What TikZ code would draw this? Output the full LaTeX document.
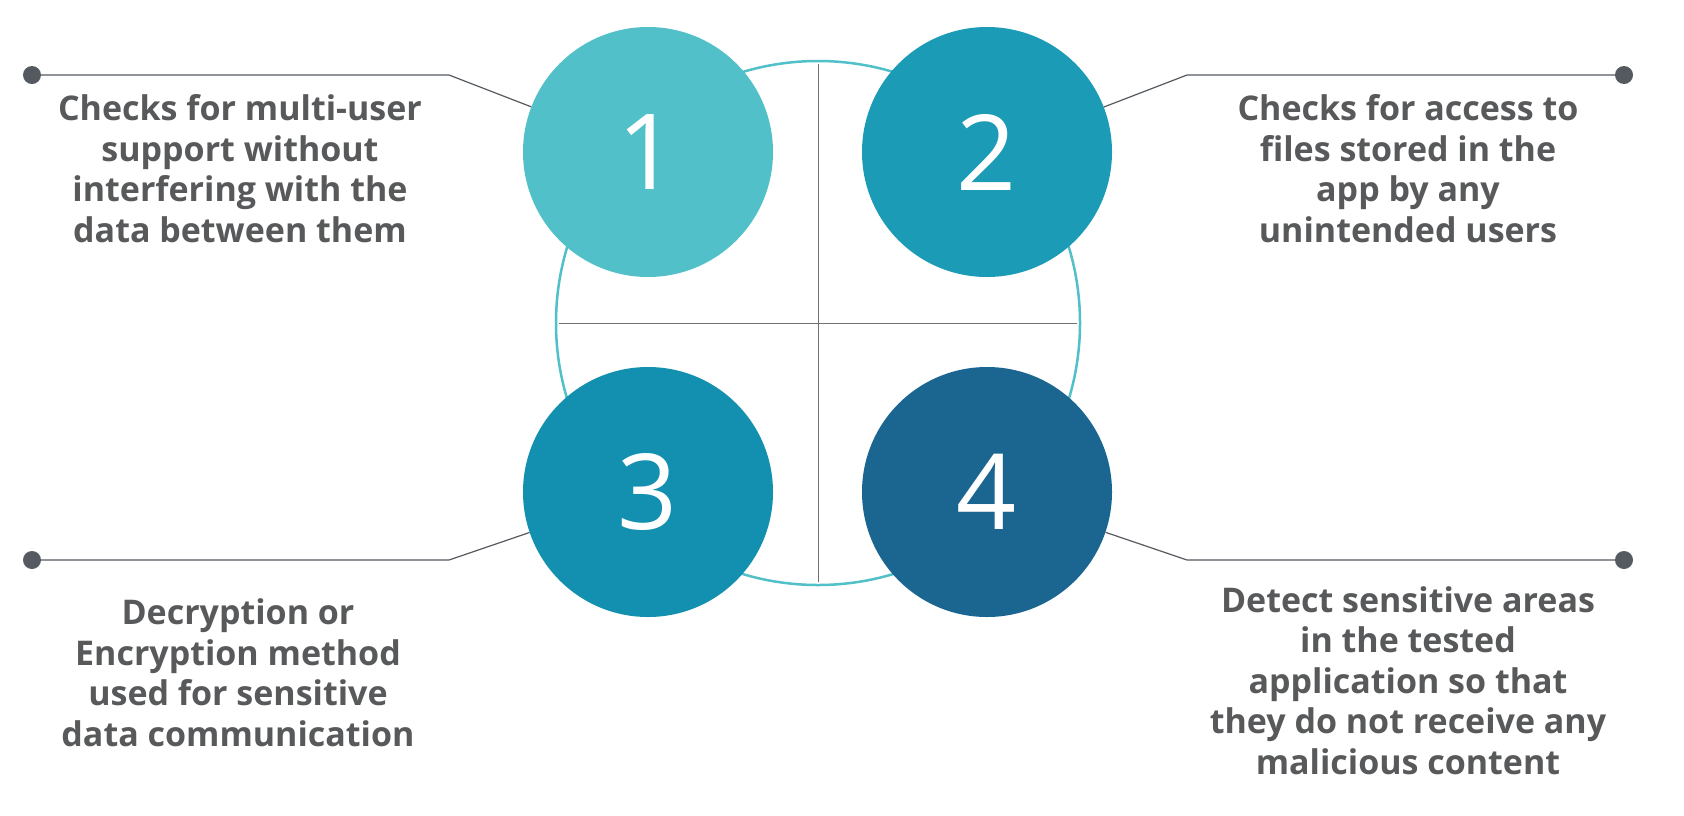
\documentclass[tikz,border=0pt]{standalone}
\usepackage{fontspec}
\setmainfont{Open Sans}
\definecolor{cone}{HTML}{52C0C8}
\definecolor{ctwo}{HTML}{1C9BB6}
\definecolor{cthree}{HTML}{1390B0}
\definecolor{cfour}{HTML}{1B6591}
\definecolor{txtgray}{HTML}{58595B}
\definecolor{leadgray}{HTML}{555A60}
\definecolor{crossgray}{HTML}{707070}
\begin{document}
\begin{tikzpicture}[x=1pt,y=-1pt,
  num/.style={circle, minimum size=250pt, inner sep=0pt, text=white, font=\fontsize{105}{105}\selectfont},
  desc/.style={align=center, text=txtgray, font=\bfseries\fontsize{34}{40.5}\selectfont, inner sep=0pt, anchor=base},
  lead/.style={draw=leadgray, line width=1.2pt},
  dotn/.style={circle, fill=leadgray, minimum size=18pt, inner sep=0pt},
  crossline/.style={draw=crossgray, line width=1pt}]
\fill[white] (0,0) rectangle (1684,815);
\useasboundingbox (0,0) rectangle (1684,815);
% big ring and cross
\node[circle, draw=cone, line width=2.5pt, minimum size=524pt, inner sep=0pt] (big) at (818,323) {};
\draw[crossline] ([yshift=-4pt]big.north) -- ([yshift=4pt]big.south);
\draw[crossline] ([xshift=4pt]big.west) -- ([xshift=-4pt]big.east);
% numbered circles
\node[num, fill=cone] (c1) at (648,152) {1};
\node[num, fill=ctwo] (c2) at (987,152) {2};
\node[num, fill=cthree] (c3) at (648,492) {3};
\node[num, fill=cfour] (c4) at (987,492) {4};
% leader dots and bends
\node[dotn] (d1) at (32,75) {};
\node[dotn] (d2) at (1624,75) {};
\node[dotn] (d3) at (32,560) {};
\node[dotn] (d4) at (1624,560) {};
\coordinate (b1) at (449,75);
\coordinate (b2) at (1187,75);
\coordinate (b3) at (449,560);
\coordinate (b4) at (1187,560);
\draw[lead] (d1) -- (b1) -- (c1);
\draw[lead] (d2) -- (b2) -- (c2);
\draw[lead] (d3) -- (b3) -- (c3);
\draw[lead] (d4) -- (b4) -- (c4);
% descriptions (anchor = baseline of last line)
\node[desc] (t1) at (240,242) {Checks for multi-user\\support without\\interfering with the\\data between them};
\node[desc] (t2) at (1408,242) {Checks for access to\\files stored in the\\app by any\\unintended users};
\node[desc] (t3) at (238,746) {Decryption or\\Encryption method\\used for sensitive\\data communication};
\node[desc] (t4) at (1408,774) {Detect sensitive areas\\in the tested\\application so that\\they do not receive any\\malicious content};
\end{tikzpicture}
\end{document}
